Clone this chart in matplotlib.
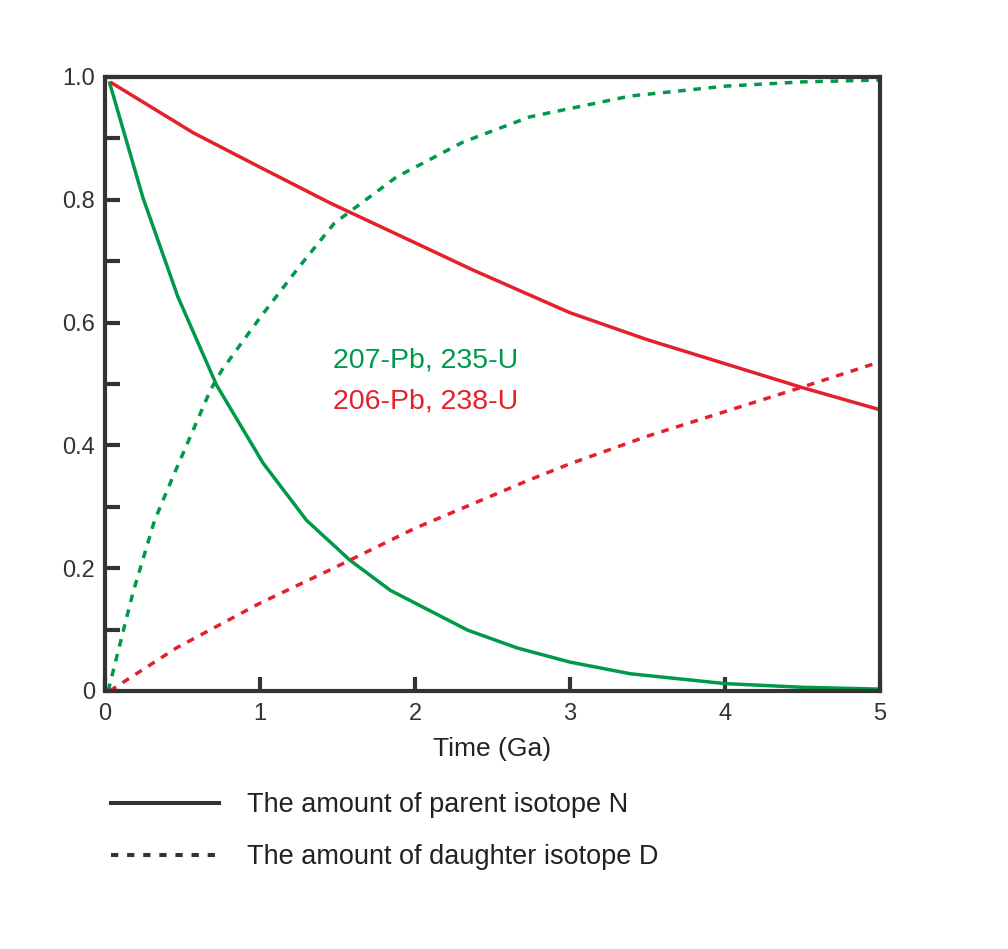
import numpy as np
import matplotlib
matplotlib.use("Agg")
import matplotlib.pyplot as plt
from matplotlib.lines import Line2D
from matplotlib.ticker import FixedLocator, FixedFormatter

plt.rcParams["font.family"] = ["Liberation Sans", "DejaVu Sans"]

# ── Data (time in Ga, fraction) ──
# 207-Pb / 235-U
t_green = [0.03, 0.245, 0.47, 0.72, 1.02, 1.3, 1.58, 1.84, 2.34, 2.66, 3.0, 3.39, 4.0, 4.5, 5.0]
n_green = [0.99, 0.803, 0.642, 0.498, 0.371, 0.278, 0.213, 0.164, 0.099, 0.07, 0.047, 0.028, 0.012, 0.006, 0.003]

t_green_d = [0.02, 0.18, 0.32, 0.43, 0.56, 0.68, 0.755, 1.0, 1.25, 1.48, 1.88, 2.31, 2.74, 3.39, 4.0, 4.5, 5.0]
d_green = [0.0, 0.16, 0.278, 0.344, 0.42, 0.49, 0.523, 0.608, 0.69, 0.762, 0.837, 0.894, 0.935, 0.969, 0.985, 0.992, 0.995]

# 206-Pb / 238-U
t_red = [0.045, 0.57, 1.0, 1.45, 2.0, 2.37, 3.0, 3.5, 4.0, 4.5, 5.0]
n_red = [0.99, 0.909, 0.853, 0.795, 0.73, 0.686, 0.616, 0.572, 0.533, 0.494, 0.458]

t_red_d = [0.03, 0.46, 1.0, 1.45, 2.0, 2.74, 3.0, 3.5, 4.0, 4.5, 5.0]
d_red = [0.0, 0.07, 0.143, 0.197, 0.265, 0.344, 0.37, 0.415, 0.455, 0.495, 0.536]

x_ticks = [0, 1, 2, 3, 4, 5]
y_ticks = [0.0, 0.1, 0.2, 0.3, 0.4, 0.5, 0.6, 0.7, 0.8, 0.9, 1.0]
y_labels = ["0", "", "0.2", "", "0.4", "", "0.6", "", "0.8", "", "1.0"]

labels = ["207-Pb, 235-U", "206-Pb, 238-U"]
legend_labels = ["The amount of parent isotope N", "The amount of daughter isotope D"]

GREEN = "#00994a"
RED = "#e4212b"
AXIS = "#333333"
LW = 2.5
DASH = (0, (2.2, 2.2))

fig = plt.figure(figsize=(10.08, 9.49), dpi=100)
ax = fig.add_axes([0.1042, 0.2719, 0.873 - 0.1042, 0.9189 - 0.2719])

ax.plot(t_green, n_green, color=GREEN, lw=LW, solid_joinstyle="round")
ax.plot(t_green_d, d_green, color=GREEN, lw=LW, linestyle=DASH)
ax.plot(t_red, n_red, color=RED, lw=LW, solid_joinstyle="round")
ax.plot(t_red_d, d_red, color=RED, lw=LW, linestyle=DASH)

ax.set_xlim(0, 5)
ax.set_ylim(0, 1)

for s in ax.spines.values():
    s.set_linewidth(3)
    s.set_color(AXIS)

ax.xaxis.set_major_locator(FixedLocator(x_ticks))
ax.yaxis.set_major_locator(FixedLocator(y_ticks))
ax.yaxis.set_major_formatter(FixedFormatter(y_labels))
ax.tick_params(axis="both", direction="in", width=3, color=AXIS,
               labelsize=17, labelcolor="#333333")
ax.tick_params(axis="y", length=11, pad=7)
ax.tick_params(axis="x", length=10, pad=9)

ax.set_xlabel("Time (Ga)", fontsize=19, color="#222222", labelpad=8)

ax.text(1.47, 0.539, labels[0], color=GREEN, fontsize=20.5, va="center")
ax.text(1.47, 0.471, labels[1], color=RED, fontsize=20.5, va="center")

handles = [
    Line2D([], [], color="#333333", lw=2.9),
    Line2D([], [], color="#333333", lw=2.9, linestyle=(0, (1.8, 2.2))),
]
fig.legend(handles, legend_labels, loc="upper left",
           bbox_to_anchor=(0.0857, 0.1907), frameon=False, fontsize=19.5,
           handlelength=4.0, handletextpad=1.04, labelspacing=0.95,
           labelcolor="#222222")

fig.savefig("out.png", dpi=100, facecolor="white")
